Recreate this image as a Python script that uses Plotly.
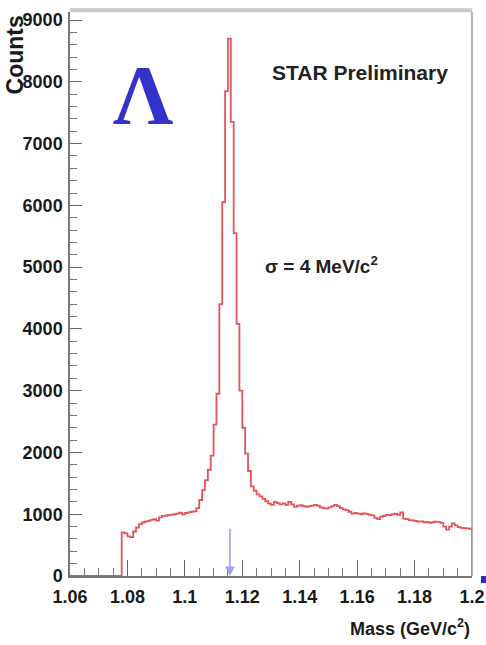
import numpy as np
import plotly.graph_objects as go

# Histogram definition (invariant mass, GeV/c^2)
MASS_LOW = 1.06
MASS_HIGH = 1.20
N_BINS = 140

# Counts per 1 MeV bin
counts = [
    0, 0, 0, 0, 0, 0, 0, 0, 0, 0,
    0, 0, 0, 0, 0, 0, 0, 0, 705, 690,
    640, 630, 720, 785, 840, 866, 880, 892, 910, 919,
    895, 950, 973, 975, 985, 995, 1000, 1010, 1027, 1000,
    1020, 1030, 1040, 1045, 1100, 1230, 1390, 1550, 1720, 1950,
    2450, 2950, 4400, 6050, 7850, 8700, 7350, 5550, 4080, 3000,
    2400, 1980, 1700, 1450, 1380, 1320, 1290, 1250, 1210, 1170,
    1150, 1200, 1180, 1160, 1175, 1150, 1200, 1160, 1120, 1140,
    1145, 1130, 1118, 1130, 1140, 1150, 1140, 1110, 1100, 1090,
    1110, 1130, 1150, 1130, 1100, 1080, 1065, 1040, 1010, 1020,
    1010, 1000, 1015, 1005, 990, 980, 940, 920, 960, 975,
    990, 985, 1000, 1010, 990, 1030, 930, 920, 905, 900,
    890, 880, 885, 870, 876, 860, 870, 880, 876, 860,
    800, 750, 800, 850, 820, 790, 780, 775, 770, 765,
]

x_ticks = [1.06, 1.08, 1.1, 1.12, 1.14, 1.16, 1.18, 1.2]
x_tick_labels = ["1.06", "1.08", "1.1", "1.12", "1.14", "1.16", "1.18", "1.2"]
y_ticks = [0, 1000, 2000, 3000, 4000, 5000, 6000, 7000, 8000, 9000]
y_tick_labels = [str(v) for v in y_ticks]

LAMBDA_MASS = 1.1157
Y_MAX = 9130

edges = np.linspace(MASS_LOW, MASS_HIGH, N_BINS + 1)
step_x = list(edges[:-1]) + [edges[-1]]
step_y = list(counts) + [0]

fig = go.Figure()
fig.add_trace(go.Scatter(
    x=step_x, y=step_y, mode="lines", line_shape="hv",
    line=dict(color="rgb(228,85,90)", width=1.8),
    cliponaxis=False, showlegend=False, hoverinfo="skip",
))

tickfont = dict(family="Liberation Sans, Arial, sans-serif", size=18, color="#1a1a1a", weight="bold")

fig.update_layout(
    width=486, height=645,
    margin=dict(l=70, r=14, t=12, b=69, autoexpand=False),
    paper_bgcolor="white", plot_bgcolor="white",
    showlegend=False,
    xaxis=dict(
        range=[MASS_LOW, MASS_HIGH], tickvals=x_ticks, ticktext=x_tick_labels,
        ticks="inside", ticklen=16, tickwidth=1.2, tickcolor="#666",
        minor=dict(dtick=0.005, tick0=MASS_LOW, ticks="inside", ticklen=8, tickcolor="#777", tickwidth=1),
        showline=True, linecolor="#777", linewidth=1.5,
        showgrid=False, zeroline=False, tickfont=tickfont,
        ticklabelstandoff=4, automargin=False,
    ),
    yaxis=dict(
        range=[0, Y_MAX], tickvals=y_ticks, ticktext=y_tick_labels,
        ticks="inside", ticklen=12, tickwidth=1.2, tickcolor="#666",
        minor=dict(dtick=200, tick0=0, ticks="inside", ticklen=7, tickcolor="#777", tickwidth=1),
        showline=True, linecolor="#777", linewidth=1.5,
        showgrid=False, zeroline=False, tickfont=tickfont,
        ticklabelstandoff=2, automargin=False,
    ),
)

# frame (top shadow and right edge)
fig.add_shape(type="line", xref="paper", yref="paper", x0=0, x1=1, y0=1.003, y1=1.003,
              line=dict(color="#c8c8c8", width=4))
fig.add_shape(type="line", xref="paper", yref="paper", x0=1, x1=1, y0=0, y1=1,
              line=dict(color="#999", width=1.5))

# stray slide artifact at the right edge
fig.add_shape(type="rect", xref="paper", yref="paper",
              x0=(481 - 70) / 402, x1=(486 - 70) / 402, y0=(576 - 583) / 564, y1=(576 - 576) / 564,
              line=dict(width=0), fillcolor="#2a2ad0")

# arrow at the Lambda mass
fig.add_annotation(x=LAMBDA_MASS, y=0, ax=LAMBDA_MASS, ay=790, xref="x", yref="y",
                   axref="x", ayref="y", text="", showarrow=True,
                   arrowhead=2, arrowsize=1.2, arrowwidth=1.6, arrowcolor="rgb(160,160,245)")

fig.add_annotation(text="Λ", xref="paper", yref="paper", x=0.1816, y=0.852,
                   showarrow=False, xanchor="center", yanchor="middle",
                   font=dict(family="Liberation Serif, Times New Roman, serif", size=84,
                             color="#3333cc", weight="bold"))
fig.add_annotation(text="STAR Preliminary", xref="paper", yref="paper", x=0.7214, y=0.8936,
                   showarrow=False, xanchor="center", yanchor="middle",
                   font=dict(family="Liberation Sans, Arial, sans-serif", size=21,
                             color="#222", weight="bold"))
fig.add_annotation(text="σ = 4 MeV/c<sup>2</sup>", xref="paper", yref="paper", x=0.625, y=0.5514,
                   showarrow=False, xanchor="center", yanchor="middle",
                   font=dict(family="Liberation Sans, Arial, sans-serif", size=19,
                             color="#222", weight="bold"))
fig.add_annotation(text="Mass (GeV/c<sup>2</sup>)", xref="paper", yref="paper", x=1.0, y=-0.092,
                   showarrow=False, xanchor="right", yanchor="middle",
                   font=dict(family="Liberation Sans, Arial, sans-serif", size=18,
                             color="#1a1a1a", weight="bold"))
fig.add_annotation(text="Counts", xref="paper", yref="paper", x=-0.138, y=0.924,
                   showarrow=False, xanchor="center", yanchor="middle", textangle=-90,
                   font=dict(family="Liberation Sans, Arial, sans-serif", size=23,
                             color="#1a1a1a", weight="bold"))

fig.write_html("out.html")
